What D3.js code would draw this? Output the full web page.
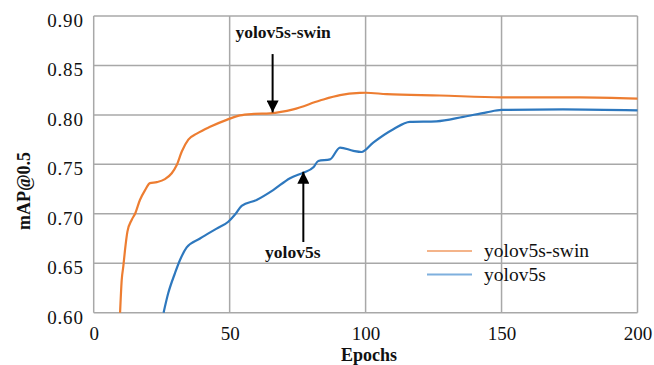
<!DOCTYPE html>
<html>
<head>
<meta charset="utf-8">
<script src="https://cdn.jsdelivr.net/npm/d3@7"></script>
<style>
    body { margin: 0; background: #fff; }
    svg text { font-family: 'Liberation Serif', 'Times New Roman', serif; fill: #111; }
</style>
</head>
<body>
<div id="chart"></div>
<script>
// data
var swinEpochs = [9.7, 10.3, 10.9, 11.5, 12.4, 14, 15.2, 17, 18.9, 20.7, 23.2, 26.2, 28.7, 30.5, 32.4, 34.8, 37.9, 42.8, 48.9, 53.8, 59, 64.8, 73.4, 83.2, 90.6, 97.9, 100, 107.7, 127.3, 150, 178.8, 200];
var swinValues = [0.600, 0.633, 0.647, 0.663, 0.682, 0.694, 0.700, 0.714, 0.724, 0.731, 0.732, 0.735, 0.741, 0.749, 0.763, 0.775, 0.781, 0.788, 0.795, 0.7995, 0.801, 0.8016, 0.8056, 0.8145, 0.820, 0.8222, 0.8224, 0.821, 0.8196, 0.8178, 0.8178, 0.8164];

var baseEpochs = [25.7, 27.4, 29.9, 31.7, 34.2, 39.1, 45.2, 49.5, 51.9, 54.4, 59.9, 66, 72.2, 77.1, 80.8, 82.6, 86.9, 90.6, 95.5, 98.5, 102.8, 110.2, 116.3, 126.1, 135.9, 144.5, 150, 172.6, 200];
var baseValues = [0.600, 0.6196, 0.640, 0.653, 0.666, 0.675, 0.685, 0.692, 0.699, 0.708, 0.714, 0.724, 0.736, 0.7416, 0.747, 0.7534, 0.755, 0.767, 0.7636, 0.7625, 0.772, 0.7855, 0.793, 0.7935, 0.798, 0.8026, 0.805, 0.8056, 0.8046];

var seriesNames = ['yolov5s-swin', 'yolov5s'];
var seriesColors = ['#ED7D31', '#2E78BE'];
var legendColors = ['#F4B48A', '#7FB0DE'];

var xTicks = [0, 50, 100, 150, 200];
var yTicks = [0.60, 0.65, 0.70, 0.75, 0.80, 0.85, 0.90];

// annotation: label, arrow tail, arrow tip (data units)
var notes = [
    { label: 'yolov5s-swin', epoch: 65.8, from: 0.8615, to: 0.8025 },
    { label: 'yolov5s', epoch: 77.1, from: 0.6715, to: 0.7425 }
];

var width = 654;
var height = 365;
var plotLeft = 93.7;
var plotRight = 637.5;
var plotTop = 16;
var plotBottom = 312.7;
var serif = "'Liberation Serif', 'Times New Roman', Tinos, serif";

var svg = d3.select('#chart')
    .append('svg')
    .attr('width', width)
    .attr('height', height);

var xScale = d3.scaleLinear().domain([0, 200]).range([plotLeft, plotRight]);
var yScale = d3.scaleLinear().domain([0.60, 0.90]).range([plotBottom, plotTop]);

// grid
var grid = svg.append('g').attr('stroke', '#a8a8a8').attr('stroke-width', 1.5);
grid.selectAll('.hgrid')
    .data(yTicks)
    .enter()
    .append('line')
    .attr('x1', plotLeft)
    .attr('x2', plotRight)
    .attr('y1', function(d) { return yScale(d); })
    .attr('y2', function(d) { return yScale(d); });
grid.selectAll('.vgrid')
    .data(xTicks)
    .enter()
    .append('line')
    .attr('x1', function(d) { return xScale(d); })
    .attr('x2', function(d) { return xScale(d); })
    .attr('y1', plotTop)
    .attr('y2', plotBottom);

// tick labels
var xAxis = d3.axisBottom(xScale).tickValues(xTicks).tickSize(0).tickPadding(14);
var yAxis = d3.axisLeft(yScale).tickValues(yTicks).tickSize(0).tickPadding(10)
    .tickFormat(d3.format('.2f'));

svg.append('g')
    .attr('transform', 'translate(0,' + plotBottom + ')')
    .call(xAxis)
    .attr('font-family', serif)
    .call(function(g) { g.select('.domain').remove(); })
    .selectAll('text')
    .style('font-size', '19px')
    .style('font-family', serif)
    .attr('fill', '#111');

svg.append('g')
    .attr('transform', 'translate(' + plotLeft + ',0)')
    .call(yAxis)
    .attr('font-family', serif)
    .call(function(g) { g.select('.domain').remove(); })
    .selectAll('text')
    .style('font-size', '19px')
    .style('font-family', serif)
    .style('letter-spacing', '0.8px')
    .attr('dy', '0.55em')
    .attr('fill', '#111');

// lines
var line = d3.line()
    .x(function(d) { return xScale(d[0]); })
    .y(function(d) { return yScale(d[1]); })
    .curve(d3.curveMonotoneX);

var seriesData = [
    d3.zip(swinEpochs, swinValues),
    d3.zip(baseEpochs, baseValues)
];

svg.append('g')
    .selectAll('path')
    .data(seriesData)
    .enter()
    .append('path')
    .attr('d', line)
    .attr('fill', 'none')
    .attr('stroke', function(d, i) { return seriesColors[i]; })
    .attr('stroke-width', 2.2);

// axis titles
svg.append('text')
    .attr('x', 369)
    .attr('y', 361)
    .attr('text-anchor', 'middle')
    .style('font-size', '18px')
    .style('font-weight', 'bold')
    .text('Epochs');

svg.append('text')
    .attr('transform', 'translate(30,191) rotate(-90)')
    .attr('text-anchor', 'middle')
    .style('font-size', '18px')
    .style('font-weight', 'bold')
    .text('mAP@0.5');

// annotations
svg.append('defs')
    .append('marker')
    .attr('id', 'head')
    .attr('viewBox', '0 0 10 10')
    .attr('refX', 10)
    .attr('refY', 5)
    .attr('markerWidth', 6)
    .attr('markerHeight', 6)
    .attr('markerUnits', 'strokeWidth')
    .attr('orient', 'auto')
    .append('path')
    .attr('d', 'M0,0 L10,5 L0,10 Z')
    .attr('fill', '#000');

var ann = svg.append('g').selectAll('g')
    .data(notes)
    .enter()
    .append('g');
ann.append('line')
    .attr('x1', function(d) { return xScale(d.epoch); })
    .attr('x2', function(d) { return xScale(d.epoch); })
    .attr('y1', function(d) { return yScale(d.from); })
    .attr('y2', function(d) { return yScale(d.to); })
    .attr('stroke', '#000')
    .attr('stroke-width', 2)
    .attr('marker-end', 'url(#head)');
ann.append('text')
    .attr('x', function(d, i) { return xScale(d.epoch) + (i == 0 ? 10.5 : -10.5); })
    .attr('y', function(d, i) { return i == 0 ? 38 : 258; })
    .attr('text-anchor', 'middle')
    .style('font-size', '17.5px')
    .style('font-weight', 'bold')
    .text(function(d) { return d.label; });

// legend
var legend = svg.append('g')
    .selectAll('g')
    .data(seriesNames)
    .enter()
    .append('g')
    .attr('transform', function(d, i) { return 'translate(427,' + (251 + i * 23.5) + ')'; });
legend.append('line')
    .attr('x1', 0)
    .attr('x2', 45)
    .attr('stroke', function(d, i) { return legendColors[i]; })
    .attr('stroke-width', 2);
legend.append('text')
    .attr('x', 57)
    .attr('dy', '0.32em')
    .style('font-size', '19.5px')
    .text(function(d) { return d; });
</script>
</body>
</html>
